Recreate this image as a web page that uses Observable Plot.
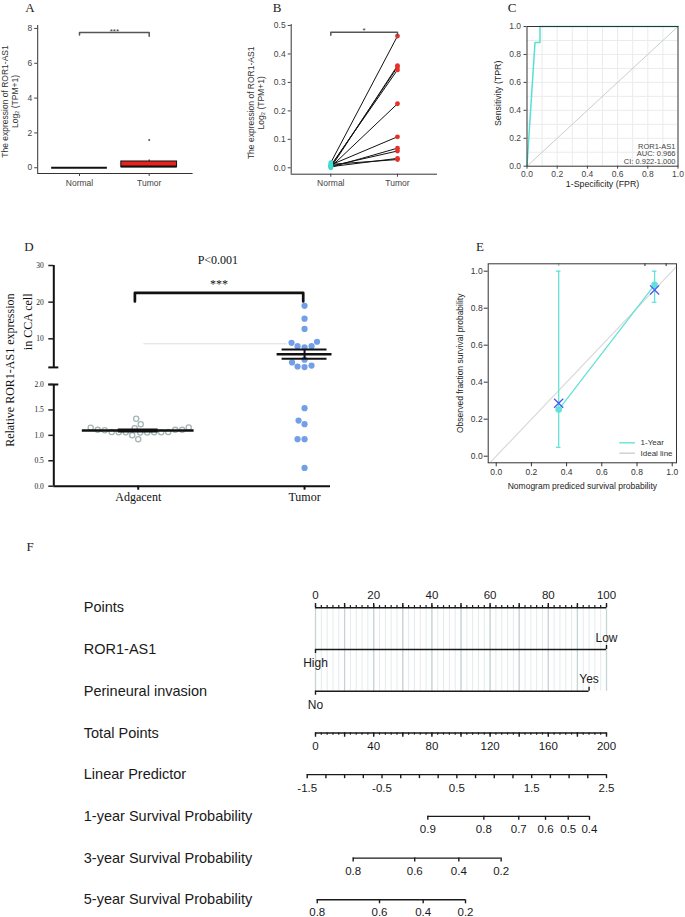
<!DOCTYPE html>
<html><head><meta charset="utf-8">
<script src="https://cdn.jsdelivr.net/npm/d3@7"></script>
<script src="https://cdn.jsdelivr.net/npm/@observablehq/plot@0.6"></script>
<style>
body{margin:0;background:#fff;}
#fig{position:relative;width:685px;height:917px;overflow:hidden;background:#fff;}
.plab{position:absolute;font-family:"Liberation Serif","Times New Roman",serif;font-size:13px;color:#222;transform:translate(-50%,-50%);line-height:1;}
</style></head><body><div id="fig"></div>
<script>
// ================= DATA =================
// Panel A (box plot)
const groupsAB = ["Normal", "Tumor"];
const boxQ1A = [0, 0.03];
const boxMedA = [0, 0.07];
const boxQ3A = [0, 0.36];
const whiskerHiA = [0, 0.45];
const outlierGroupA = [1];
const outlierValueA = [1.6];
// Panel B (paired)
const normalB = [0.018, 0.000, 0.005, 0.008, 0.003, 0.010, 0.002, 0.006, 0.004, 0.012];
const tumorB  = [0.463, 0.359, 0.354, 0.344, 0.225, 0.109, 0.069, 0.059, 0.033, 0.029];
// Panel C (ROC)
const rocFPR = [0, 0.053, 0.086, 0.086, 1];
const rocTPR = [0, 0.885, 0.885, 1, 1];
const rocNotes = ["ROR1-AS1", "AUC: 0.966", "CI: 0.922-1.000"];
// Panel D (scatter)
const groupsD = ["Adgacent", "Tumor"];
const adjacentD = [1.154, 1.141, 1.108, 1.100, 1.220, 1.325, 0.925, 1.003, 1.108, 1.108, 1.148,
                   1.060, 1.055, 1.060, 1.065, 1.060, 1.055, 1.060, 1.065];
const tumorD = [19.0, 15.5, 12.7, 9.2, 8.0, 7.7, 8.0, 8.9, 2.7, 2.45, 4.3, 2.3, 3.55,
                1.535, 1.22, 1.29, 0.925, 0.925, 0.36];
// Panel E (calibration)
const calPred = [0.355, 0.900];
const calObs  = [0.252, 0.926];
const calLo   = [0.048, 0.832];
const calHi   = [1.000, 1.000];
const calKM   = [0.286, 0.899];
const rugPred = [0.355, 0.845, 0.966];
// Panel F (nomogram)
const rowLabels = ["Points", "ROR1-AS1", "Perineural invasion", "Total Points", "Linear Predictor",
  "1-year Survival Probability", "3-year Survival Probability", "5-year Survival Probability"];
const rorLevels = ["High", "Low"];   const rorPoints = [0, 100];
const pniLevels = ["No", "Yes"];     const pniPoints = [0, 94];
const lpEnds = [-1.5, 2.5];          const lpEndsTP = [-5.7, 200];
const lpLabels = [-1.5, -0.5, 0.5, 1.5, 2.5];
const surv1 = [0.9, 0.8, 0.7, 0.6, 0.5, 0.4]; const surv1TP = [77.2, 115.7, 139.7, 158.1, 173.7, 188.3];
const surv3 = [0.8, 0.6, 0.4, 0.2];           const surv3TP = [25.9, 68.2, 98.5, 127.6];
const surv5 = [0.8, 0.6, 0.4, 0.2];           const surv5TP = [1.2, 44.0, 74.0, 103.1];

// ================= HELPERS =================
const sans = '"Liberation Sans", Arial, Helvetica, sans-serif';
const serif = '"Liberation Serif", "Times New Roman", Times, serif';
const fig = document.getElementById("fig");
function place(el, left, top){ el.style.position="absolute"; el.style.left=left+"px"; el.style.top=top+"px"; fig.appendChild(el); }
function st(fam, size){ return {fontFamily:fam, fontSize:size+"px", background:"transparent", overflow:"visible", color:"#333"}; }
function letter(t, x, y){ const d=document.createElement("div"); d.className="plab"; d.textContent=t; d.style.left=x+"px"; d.style.top=y+"px"; fig.appendChild(d); }

// ================= PANEL A =================
{
const boxesA = groupsAB.map((g,i)=>({i, q1:boxQ1A[i], med:boxMedA[i], q3:boxQ3A[i], hi:whiskerHiA[i]}));
const outA = outlierGroupA.map((g,i)=>({g, v:outlierValueA[i]}));
const aX=[-0.6,1.63], aY=[-0.33,8.17];
const p = Plot.plot({
  width:230, height:200, marginLeft:37.2, marginRight:37.4, marginTop:25, marginBottom:27,
  style:st(sans,8.5), x:{domain:aX}, y:{domain:aY},
  marks:[
    Plot.ruleX([aX[0]],{stroke:"#333"}),
    Plot.ruleY([aY[0]],{stroke:"#333"}),
    Plot.axisY({ticks:[0,2,4,6,8], tickSize:3, tickPadding:2.5, label:null, color:"#444"}),
    Plot.axisX({ticks:[0,1], tickFormat:i=>groupsAB[i], tickSize:3, tickPadding:3.5, label:null, color:"#444"}),
    Plot.ruleX(boxesA.filter(d=>d.hi>d.q3),{x:"i", y1:"q3", y2:"hi", stroke:"#222"}),
    Plot.rect(boxesA.filter(d=>d.q3>d.q1),{x1:d=>d.i-0.4, x2:d=>d.i+0.4, y1:"q1", y2:"q3", fill:"#e8231d", stroke:"#111"}),
    Plot.ruleY(boxesA,{y:"med", x1:d=>d.i-0.4, x2:d=>d.i+0.4, stroke:"#111", strokeWidth:2}),
    Plot.dot(outA,{x:"g", y:"v", r:1, fill:"#555"}),
    Plot.line([[0,7.63],[0,7.77],[1,7.77],[1,7.55]],{stroke:"#555"}),
    Plot.text(["***"],{x:0.5, y:7.83, fontSize:8, fill:"#333"}),
    Plot.text(["The expression of ROR1-AS1"],{frameAnchor:"left", textAnchor:"middle", rotate:-90, dx:-32, dy:2, fontSize:8.5, fill:"#333"}),
    Plot.text(["Log\u2082 (TPM+1)"],{frameAnchor:"left", textAnchor:"middle", rotate:-90, dx:-22, dy:2, fontSize:8.5, fill:"#333"})
  ]
});
place(p, 0, 0);
}

// ================= PANEL B =================
{
const pairsB = normalB.map((n,i)=>({n, t:tumorB[i]}));
const bX=[-0.594,1.6], bY=[-0.0225,0.5035];
const p = Plot.plot({
  width:230, height:200, marginLeft:65.7, marginRight:18, marginTop:24, marginBottom:26.3,
  style:st(sans,8.5), x:{domain:bX}, y:{domain:bY},
  marks:[
    Plot.ruleX([bX[0]],{stroke:"#333"}),
    Plot.ruleY([bY[0]],{stroke:"#333"}),
    Plot.axisY({ticks:[0,0.1,0.2,0.3,0.4,0.5], tickFormat:d=>d.toFixed(1), tickSize:3, tickPadding:2.5, label:null, color:"#444"}),
    Plot.axisX({ticks:[0,1], tickFormat:i=>groupsAB[i], tickSize:3, tickPadding:3, label:null, color:"#444"}),
    Plot.link(pairsB,{x1:()=>0, y1:"n", x2:()=>1, y2:"t", stroke:"#111", strokeWidth:1}),
    Plot.dot(pairsB,{x:()=>0, y:"n", r:2.4, fill:"#3fdccf"}),
    Plot.dot(pairsB,{x:()=>1, y:"t", r:2.4, fill:"#e8302a"}),
    Plot.line([[0,0.466],[0,0.476],[1,0.476],[1,0.466]],{stroke:"#555"}),
    Plot.text(["*"],{x:0.5, y:0.483, fontSize:8, fill:"#333"}),
    Plot.text(["The expression of ROR1-AS1"],{frameAnchor:"left", textAnchor:"middle", rotate:-90, dx:-39.7, dy:3.5, fontSize:8.5, fill:"#333"}),
    Plot.text(["Log\u2082 (TPM+1)"],{frameAnchor:"left", textAnchor:"middle", rotate:-90, dx:-30, dy:3.5, fontSize:8.5, fill:"#333"})
  ]
});
place(p, 225, 0);
}

// ================= PANEL C =================
{
const roc = rocFPR.map((f,i)=>({f, t:rocTPR[i]}));
const gridC = [0.1,0.2,0.3,0.4,0.5,0.6,0.7,0.8,0.9];
const ticksC = [0,0.2,0.4,0.6,0.8,1];
const p = Plot.plot({
  width:230, height:200, marginLeft:71.5, marginRight:7.5, marginTop:26, marginBottom:34.3,
  style:st(sans,8.5), x:{domain:[0,1]}, y:{domain:[0,1]},
  marks:[
    Plot.ruleX(gridC,{stroke:"#ebebeb"}),
    Plot.ruleY(gridC,{stroke:"#ebebeb"}),
    Plot.line([[0,0],[1,1]],{stroke:"#c6cfcf", strokeWidth:1}),
    Plot.line(roc,{x:"f", y:"t", stroke:"#56e0d3", strokeWidth:1.5}),
    Plot.frame({stroke:"#333"}),
    Plot.axisY({ticks:ticksC, tickFormat:d=>d.toFixed(1), tickSize:3, tickPadding:3, label:null, color:"#444"}),
    Plot.axisX({ticks:ticksC, tickFormat:d=>d.toFixed(1), tickSize:3, tickPadding:2, label:null, color:"#444"}),
    Plot.text([rocNotes.join("\n")],{frameAnchor:"bottom-right", textAnchor:"end", lineAnchor:"bottom", lineHeight:1, dx:-2.5, dy:-2.5, fontSize:7.5, fill:"#444"}),
    Plot.text(["1-Specificity (FPR)"],{frameAnchor:"bottom", textAnchor:"middle", dy:20.5, fontSize:8.8, fill:"#222"}),
    Plot.text(["Sensitivity (TPR)"],{frameAnchor:"left", textAnchor:"middle", rotate:-90, dx:-28.8, dy:-3, fontSize:8.8, fill:"#222"})
  ]
});
place(p, 455, 0);
}

// ================= PANEL D =================
{
const dX=[-0.5075,1.156];
const dYdomain=[0,2,2.2,30], dYrange=[245.7,144,126.9,25];
const dYpx = d3.scaleLinear().domain(dYdomain).range(dYrange);
const dXunit = (330-53.3)/(dX[1]-dX[0]);
function swarm(values, diam){
  const placed=[]; const off=new Array(values.length).fill(0);
  const order=d3.range(values.length).sort((a,b)=>d3.ascending(values[a],values[b]));
  for(const i of order){
    const y=dYpx(values[i]);
    for(let k=0;k<2000;k++){
      const dx=(k%2===1?-1:1)*Math.ceil(k/2)*0.5;
      if(placed.every(q=>Math.hypot(q.x-dx,q.y-y)>=diam)){placed.push({x:dx,y}); off[i]=dx/dXunit; break;}
    }
  }
  return off;
}
const adjOff = swarm(adjacentD, 6.9), tumOff = swarm(tumorD, 6.7);
const dotsAdj = adjacentD.map((v,i)=>({x:adjOff[i], v}));
const dotsTum = tumorD.map((v,i)=>({x:1+tumOff[i], v}));
const meanHalf=[0.336,0.165], capHalf=[0.12,0.135];
const statsD = [adjacentD, tumorD].map((vals,i)=>{const m=d3.mean(vals), se=d3.deviation(vals)/Math.sqrt(vals.length); return {i, m, lo:m-se, hi:m+se};});
const capsD = statsD.flatMap(d=>[{i:d.i,y:d.lo},{i:d.i,y:d.hi}]);
const p = Plot.plot({
  width:330, height:270, marginLeft:53.3, marginRight:0, marginTop:25, marginBottom:24.3,
  style:st(serif,12), x:{domain:dX}, y:{type:"linear", domain:dYdomain, range:dYrange},
  marks:[
    Plot.ruleY([8.64],{x1:0.034, x2:0.896, stroke:"#dcdcdc"}),
    Plot.ruleX([dX[0]],{y1:0, y2:2, stroke:"#111", strokeWidth:2}),
    Plot.ruleX([dX[0]],{y1:2.2, y2:30, stroke:"#111", strokeWidth:2}),
    Plot.ruleY([0],{x1:dX[0], x2:dX[1], stroke:"#111", strokeWidth:2}),
    Plot.ruleY([2,2.2],{x1:-0.5376, x2:-0.4775, stroke:"#111", strokeWidth:2}),
    Plot.axisY({ticks:[0,0.5,1,1.5,2,10,20,30], tickFormat:d=>d>=10?String(d):d.toFixed(1), tickSize:5, tickPadding:5, fontSize:7.5, label:null, color:"#222", strokeWidth:1.5}),
    Plot.axisX({ticks:[0,1], tickFormat:i=>groupsD[i], tickSize:4, tickPadding:2, fontSize:12, label:null, color:"#111", strokeWidth:2}),
    Plot.dot(dotsAdj,{x:"x", y:"v", r:2.6, stroke:"#a5b6b6", strokeWidth:1.3, fill:"white"}),
    Plot.dot(dotsTum,{x:"x", y:"v", r:3.1, fill:"#6b9ae6", fillOpacity:0.95}),
    Plot.ruleY(statsD,{y:"m", x1:d=>d.i-meanHalf[d.i], x2:d=>d.i+meanHalf[d.i], stroke:"#111", strokeWidth:2.5}),
    Plot.ruleX(statsD,{x:"i", y1:"lo", y2:"hi", stroke:"#111", strokeWidth:2}),
    Plot.ruleY(capsD,{y:"y", x1:d=>d.i-capHalf[d.i], x2:d=>d.i+capHalf[d.i], stroke:"#111", strokeWidth:2}),
    Plot.line([[-0.02,20.2],[-0.02,22.55],[0.992,22.55],[0.992,20.2]],{stroke:"#111", strokeWidth:2.7}),
    Plot.text(["P<0.001"],{x:0.479, y:31.36, fontSize:12, fill:"#111"}),
    Plot.text(["***"],{x:0.485, y:24.95, fontSize:12, fill:"#111"}),
    Plot.text(["Relative ROR1-AS1 expression"],{frameAnchor:"top-left", rotate:-90, textAnchor:"end", dx:-48.3, dy:28, fontSize:12, fill:"#111"}),
    Plot.text(["in CCA cell"],{frameAnchor:"top-left", rotate:-90, textAnchor:"end", dx:-30, dy:28, fontSize:12, fill:"#111"})
  ]
});
place(p, 0, 240);
}

// ================= PANEL E =================
{
const eX=[-0.0455,1.0244], eY=[-0.0357,1.04];
const cyanE = "#63e2d8";
const calE = calPred.map((pp,i)=>({p:pp, o:calObs[i], lo:calLo[i], hi:calHi[i], km:calKM[i]}));
const capsE = calE.flatMap(d=>[{p:d.p,y:d.lo},{p:d.p,y:d.hi}]);
const ticksE = [0,0.2,0.4,0.6,0.8,1];
const legendE = [{label:"1-Year", color:cyanE}, {label:"Ideal line", color:"#cfcfcf"}];
const p = Plot.plot({
  width:285, height:260, marginLeft:87.7, marginRight:9, marginTop:23.3, marginBottom:37.7,
  style:st(sans,8.5), x:{domain:eX}, y:{domain:eY},
  marks:[
    Plot.line([[-0.1,-0.1],[1.1,1.1]],{stroke:"#dadada", strokeWidth:1.2, clip:true}),
    Plot.line(calE,{x:"p", y:"o", stroke:cyanE, strokeWidth:1.3}),
    Plot.ruleX(calE,{x:"p", y1:"lo", y2:"hi", stroke:cyanE, strokeWidth:1.3}),
    Plot.ruleY(capsE,{y:"y", x1:d=>d.p-0.013, x2:d=>d.p+0.013, stroke:cyanE, strokeWidth:1.3}),
    Plot.dot(calE,{x:"p", y:"o", r:3.3, fill:cyanE}),
    Plot.dot(calE,{x:"p", y:"km", symbol:"times", r:4.2, stroke:"#4a57f5", strokeWidth:1.3}),
    Plot.ruleX(rugPred.slice(0,1),{y1:1.04, y2:1.025, stroke:"#a9d3d0", strokeWidth:1.6}),
    Plot.ruleX(rugPred.slice(1),{y1:1.04, y2:1.025, stroke:"#777", strokeWidth:1.6}),
    Plot.frame({stroke:"#333"}),
    Plot.axisY({ticks:ticksE, tickFormat:d=>d.toFixed(1), tickSize:4, tickPadding:1.5, label:null, color:"#333"}),
    Plot.axisX({ticks:ticksE, tickFormat:d=>d.toFixed(1), tickSize:4, tickPadding:2, label:null, color:"#333"}),
    Plot.ruleY(legendE,{y:(d,i)=>0.0724-i*0.0562, x1:0.702, x2:0.791, stroke:d=>d.color, strokeWidth:1.4}),
    Plot.text(legendE,{y:(d,i)=>0.0724-i*0.0562, x:0.82, text:"label", textAnchor:"start", fontSize:8, fill:"#333"}),
    Plot.text(["Nomogram prediced survival probability"],{frameAnchor:"bottom", textAnchor:"middle", dy:26, fontSize:8.5, fill:"#222"}),
    Plot.text(["Observed fraction survival probability"],{frameAnchor:"left", textAnchor:"middle", rotate:-90, dx:-27.7, fontSize:8.5, fill:"#222"})
  ]
});
place(p, 400, 240);
}

// ================= PANEL F =================
{
const ink = "#1a1a1a";
const u = 1/41.71;               // one pixel expressed in row units
const tpToPts = tp => tp/2;      // Total Points 0-200 share the Points 0-100 span
const lpToTP = d3.scaleLinear().domain(lpEnds).range(lpEndsTP);
const ptsMinor = d3.range(0,101,2), ptsMajor = d3.range(0,101,10), ptsLab = d3.range(0,101,20);
const tpMinor = d3.range(0,201,4), tpMajor = d3.range(0,201,20), tpLab = d3.range(0,201,40);
const lpTicks = d3.range(0,17).map(k=>lpEnds[0]+k*0.25);
function catRow(levels, pts, row){
  const d = levels.map((l,i)=>({l, x:pts[i], dir:i===0?1:-1}));
  return [
    Plot.ruleY([row],{x1:d3.min(pts), x2:d3.max(pts), stroke:ink, strokeWidth:1.4}),
    Plot.ruleX(d,{x:"x", y1:row, y2:e=>row+e.dir*4*u, stroke:ink, strokeWidth:1.4}),
    Plot.text(d,{x:"x", y:e=>row+(e.dir>0?13.8:-11.8)*u, text:"l", fontSize:12, fill:ink})
  ];
}
function survRow(probs, tps, row){
  const d = probs.map((pr,i)=>({pr, x:tpToPts(tps[i])}));
  return [
    Plot.ruleY([row],{x1:d3.min(d,e=>e.x), x2:d3.max(d,e=>e.x), stroke:ink, strokeWidth:1.4}),
    Plot.ruleX(d,{x:"x", y1:row, y2:row+4*u, stroke:ink, strokeWidth:1.4}),
    Plot.text(d,{x:"x", y:row+13*u, text:e=>e.pr.toFixed(1), fontSize:11.5, fill:ink})
  ];
}
const p = Plot.plot({
  width:685, height:360, marginLeft:83.3, marginRight:79, marginTop:47.3, marginBottom:20.7,
  style:st(sans,11.5),
  x:{domain:[0,100], range:[315,606], axis:null},
  y:{domain:[0,7], range:[47.3,339.3], axis:null},
  marks:[
    Plot.ruleX(ptsMinor,{x:d=>d, y1:0, y2:2, stroke:"#e4ebeb"}),
    Plot.ruleX(ptsMajor,{x:d=>d, y1:0, y2:2, stroke:"#c6d4d4", strokeWidth:1.3}),
    Plot.text(rowLabels,{y:(d,i)=>i, frameAnchor:"left", textAnchor:"start", fontSize:14.5, fill:ink}),
    // Points
    Plot.ruleY([0],{x1:0, x2:100, stroke:ink, strokeWidth:1.4}),
    Plot.ruleX(ptsMinor,{x:d=>d, y1:0, y2:-2.2*u, stroke:ink, strokeWidth:1.2}),
    Plot.ruleX(ptsMajor,{x:d=>d, y1:0, y2:-4.3*u, stroke:ink, strokeWidth:1.4}),
    Plot.text(ptsLab,{x:d=>d, y:-12.3*u, text:d=>String(d), fontSize:11.5, fill:ink}),
    ...catRow(rorLevels, rorPoints, 1),
    ...catRow(pniLevels, pniPoints, 2),
    // Total points
    Plot.ruleY([3],{x1:tpToPts(0), x2:tpToPts(200), stroke:ink, strokeWidth:1.4}),
    Plot.ruleX(tpMinor,{x:tpToPts, y1:3, y2:3+2.2*u, stroke:ink, strokeWidth:1.2}),
    Plot.ruleX(tpMajor,{x:tpToPts, y1:3, y2:3+4.3*u, stroke:ink, strokeWidth:1.4}),
    Plot.text(tpLab,{x:tpToPts, y:3+13*u, text:d=>String(d), fontSize:11.5, fill:ink}),
    // Linear predictor
    Plot.ruleY([4],{x1:tpToPts(lpToTP(lpEnds[0])), x2:tpToPts(lpToTP(lpEnds[1])), stroke:ink, strokeWidth:1.4}),
    Plot.ruleX(lpTicks,{x:d=>tpToPts(lpToTP(d)), y1:4, y2:4+4*u, stroke:ink, strokeWidth:1.4}),
    Plot.text(lpLabels,{x:d=>tpToPts(lpToTP(d)), y:4+13.4*u, text:d=>d.toFixed(1), fontSize:11.5, fill:ink}),
    ...survRow(surv1, surv1TP, 5),
    ...survRow(surv3, surv3TP, 6),
    ...survRow(surv5, surv5TP, 7)
  ]
});
place(p, 0, 560);
}

// ================= PANEL LETTERS =================
letter("A", 30, 7); letter("B", 277, 7); letter("C", 512, 7);
letter("D", 29, 246); letter("E", 480, 246); letter("F", 30, 546);
</script></body></html>
